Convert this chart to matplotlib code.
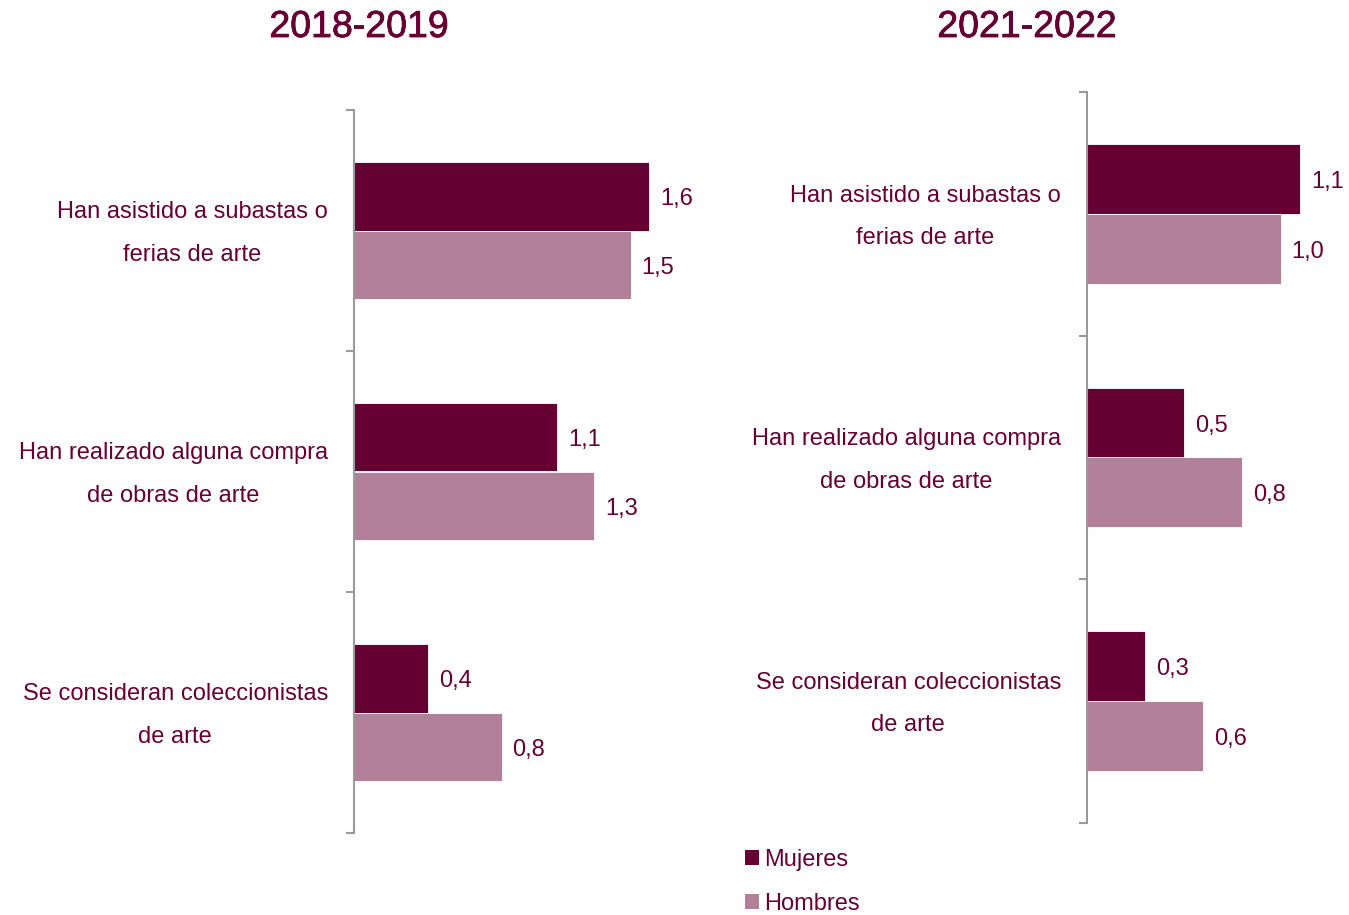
import matplotlib
matplotlib.use("Agg")
import matplotlib.pyplot as plt
import matplotlib.patheffects as pe
from matplotlib.patches import Patch

plt.rcParams["font.family"] = ["Liberation Sans", "DejaVu Sans"]

# ----- data -----
periods = ["2018-2019", "2021-2022"]
categories = [
    "Han asistido a subastas o\nferias de arte",
    "Han realizado alguna compra\nde obras de arte",
    "Se consideran coleccionistas\nde arte",
]
mujeres_1819 = [1.6, 1.1, 0.4]
hombres_1819 = [1.5, 1.3, 0.8]
mujeres_2122 = [1.1, 0.5, 0.3]
hombres_2122 = [1.0, 0.8, 0.6]
series_names = ["Mujeres", "Hombres"]

# ----- style -----
TEXT = "#660033"
DARK = "#660033"
LIGHT = "#b28099"
SPINE = "#9a9a9a"
FS = 17

W, H = 1349, 915
fig = plt.figure(figsize=(W / 100, H / 100), dpi=100)

# axes boxes in pixels: left, top, bottom, px-per-unit, xmax
boxes = [(354, 110, 833, 184.5, 2.0), (1087, 92, 823, 193.5, 1.3)]
panels = [(mujeres_1819, hombres_1819), (mujeres_2122, hombres_2122)]
title_x = [359, 1027]

bar_h = 0.286
for (left, top, bottom, ppu, xmax), (muj, hom), period, tx in zip(
    boxes, panels, periods, title_x
):
    ax = fig.add_axes(
        [left / W, 1 - bottom / H, xmax * ppu / W, (bottom - top) / H]
    )
    pos = list(range(len(categories)))
    ax.barh([p - bar_h / 2 for p in pos], muj, height=bar_h, color=DARK,
            edgecolor="white", linewidth=0.6)
    ax.barh([p + bar_h / 2 for p in pos], hom, height=bar_h, color=LIGHT,
            edgecolor="white", linewidth=0.6)
    for p, m, h in zip(pos, muj, hom):
        for val, yy in [(m, p - bar_h / 2), (h, p + bar_h / 2)]:
            ax.annotate(f"{val:.1f}".replace(".", ","), xy=(val, yy),
                        xytext=(11, -3), textcoords="offset pixels",
                        ha="left", va="center", fontsize=FS, color=TEXT)
    for p, lab in zip(pos, categories):
        ax.annotate(lab, xy=(0, p), xycoords=("axes fraction", "data"),
                    xytext=(-26, -3), textcoords="offset pixels",
                    ha="right", va="center", multialignment="center",
                    fontsize=FS, color=TEXT, linespacing=2.2)

    ax.set_xlim(0, xmax)
    ax.set_ylim(len(categories) - 0.5, -0.5)
    ax.set_yticks([-0.5, 0.5, 1.5, 2.5])
    ax.set_yticklabels([])
    ax.set_xticks([])
    for s in ["top", "right", "bottom"]:
        ax.spines[s].set_visible(False)
    ax.spines["left"].set_color(SPINE)
    ax.spines["left"].set_linewidth(1.5)
    ax.tick_params(axis="y", length=6, width=1.5, color=SPINE, direction="out")

    # regular weight thickened a little, the title is between regular and bold
    fig.text(tx / W, 1 - 27 / H, period, ha="center", va="center",
             fontsize=27, color=TEXT,
             path_effects=[pe.withStroke(linewidth=0.6, foreground=TEXT)])

handles = [Patch(facecolor=DARK), Patch(facecolor=LIGHT)]
leg = fig.legend(handles, series_names, loc="upper left",
                 bbox_to_anchor=(733 / W, 1 - 837 / H), frameon=False,
                 fontsize=FS, handlelength=0.6, handleheight=0.6,
                 handletextpad=0.2, labelspacing=0.95, borderpad=0)
for t in leg.get_texts():
    t.set_color(TEXT)

fig.savefig("out.png", dpi=100)
